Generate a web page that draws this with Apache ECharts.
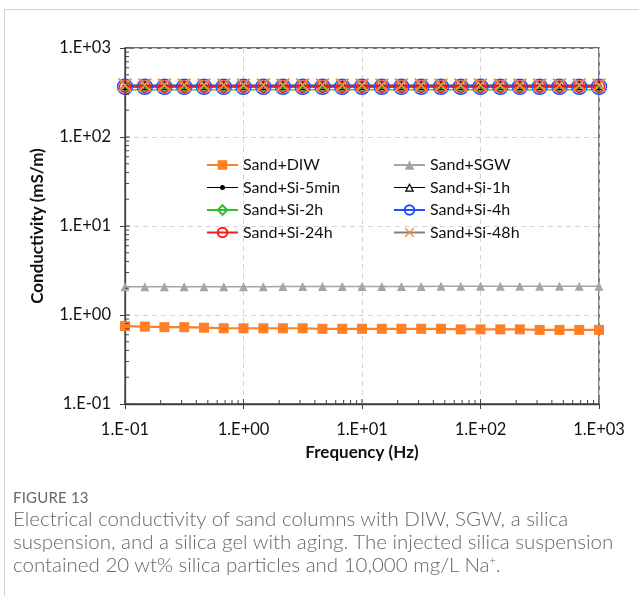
<!DOCTYPE html>
<html>
<head>
<meta charset="utf-8">
<script src="https://cdn.jsdelivr.net/npm/echarts@6/dist/echarts.min.js"></script>
<style>
  html, body { margin: 0; padding: 0; background: #fff; }
  #page { position: relative; width: 639px; height: 596px; overflow: hidden; }
  #frame { position: absolute; left: 4px; top: 9px; width: 660px; height: 620px;
           border: 1px solid #d2d2d2; box-sizing: border-box; }
  #chart { position: absolute; left: 0; top: 0; width: 639px; height: 596px; }
  #caption { position: absolute; left: 13px; top: 487px; width: 626px;
             font-family: Lato, "Open Sans", sans-serif; color: #666; white-space: nowrap; }
  #caption .fig { font-size: 15px; letter-spacing: 0.2px; line-height: 20px; color: #666; }
  #caption .txt { font-size: 20.5px; line-height: 23px; font-weight: 300; }
</style>
</head>
<body>
<div id="page">
  <div id="frame"></div>
  <div id="chart"></div>
  <div id="caption">
    <div class="fig">FIGURE 13</div>
    <div class="txt">Electrical conductivity of sand columns with DIW, SGW, a silica<br>suspension, and a silica gel with aging. The injected silica suspension<br>contained 20 wt% silica particles and 10,000 mg/L Na<sup style="font-size:11px;line-height:0">+</sup>.</div>
  </div>
</div>
<script>
// Measurement frequencies (Hz), six per decade
const frequency = [0.1, 0.147, 0.215, 0.316, 0.464, 0.681, 1, 1.47, 2.15, 3.16, 4.64, 6.81,
  10, 14.7, 21.5, 31.6, 46.4, 68.1, 100, 147, 215, 316, 464, 681, 1000];

// Conductivity (mS/m)
const sandDIW = [0.75, 0.74, 0.73, 0.73, 0.72, 0.71, 0.71, 0.71, 0.71, 0.71, 0.70, 0.70,
  0.70, 0.70, 0.70, 0.70, 0.70, 0.69, 0.69, 0.69, 0.69, 0.68, 0.68, 0.68, 0.68];
const sandSGW = [2.08, 2.08, 2.08, 2.08, 2.08, 2.08, 2.08, 2.08, 2.09, 2.09, 2.09, 2.09,
  2.09, 2.09, 2.09, 2.09, 2.10, 2.10, 2.10, 2.10, 2.10, 2.10, 2.10, 2.10, 2.10];
const sandSi5min = [372, 372, 372, 372, 372, 372, 372, 372, 372, 372, 372, 372,
  372, 372, 372, 372, 372, 372, 372, 372, 372, 372, 372, 372, 372];
const sandSi1h = [378, 378, 378, 378, 378, 378, 378, 378, 378, 378, 378, 378,
  378, 378, 378, 378, 378, 378, 378, 378, 378, 378, 378, 378, 378];
const sandSi2h = [338, 338, 338, 338, 338, 338, 338, 338, 338, 338, 338, 338,
  338, 338, 338, 338, 338, 338, 338, 338, 338, 338, 338, 338, 338];
const sandSi4h = [366, 366, 366, 366, 366, 366, 366, 366, 366, 366, 366, 366,
  366, 366, 366, 366, 366, 366, 366, 366, 366, 366, 366, 366, 366];
const sandSi24h = [368, 368, 368, 368, 368, 368, 368, 368, 368, 368, 368, 368,
  368, 368, 368, 368, 368, 368, 368, 368, 368, 368, 368, 368, 368];
const sandSi48h = [385, 385, 385, 385, 385, 385, 385, 385, 385, 385, 385, 385,
  385, 385, 385, 385, 385, 385, 385, 385, 385, 385, 385, 385, 385];

// Axis tick labels, one per decade from 1e-1 to 1e3
const decades = [0.1, 1, 10, 100, 1000];
const decadeLabels = ['1.E-01', '1.E+00', '1.E+01', '1.E+02', '1.E+03'];

const FONT = 'Lato, "Open Sans", sans-serif';
const AXIS_COLOR = '#404040';
const TEXT_COLOR = '#111';
const crossPath = 'path://M1,0L5,4L9,0L10,1L6,5L10,9L9,10L5,6L1,10L0,9L4,5L0,1Z';
// Legend keys drawn as paths in a 31x12 box (corner specks pin the box size)
const KEY_BOX = 'M0,0L0.01,0L0,0.01Z M31,12L30.99,12L31,11.99Z ';
const dotKeyPath = 'path://' + KEY_BOX +
  'M0,5.4L13.2,5.4L13.2,6.6L0,6.6Z M17.8,5.4L31,5.4L31,6.6L17.8,6.6Z ' +
  'M13,6A2.5,2.5,0,1,1,18,6A2.5,2.5,0,1,1,13,6Z';
const hollowTriangleKeyPath = 'path://' + KEY_BOX +
  'M0,5.4L13.3,5.4L13.3,6.6L0,6.6Z M17.7,5.4L31,5.4L31,6.6L17.7,6.6Z ' +
  'M15.5,1.5L20.2,10.3L10.8,10.3Z M15.5,4.1L12.9,9.1L18.1,9.1Z';

function labelFor(v) {
  const i = decades.findIndex(d => Math.abs(Math.log10(d) - Math.log10(v)) < 1e-6);
  return i >= 0 ? decadeLabels[i] : '';
}

// Minor tick positions (2..9 within each decade)
const minorValues = [];
decades.slice(0, -1).forEach(d => { for (let k = 2; k <= 9; k++) minorValues.push(+(d * k).toPrecision(3)); });

function pairs(ys) { return frequency.map((f, i) => [f, ys[i]]); }

function lineSeries(name, ys, opts) {
  return Object.assign({
    name: name, type: 'line', data: pairs(ys), showSymbol: true,
    animation: false, z: 3
  }, opts);
}

const series = [
  lineSeries('Sand+DIW', sandDIW, {
    symbol: 'rect', symbolSize: 10,
    lineStyle: { color: '#ff7f27', width: 2.2 },
    itemStyle: { color: '#ff7f27' }
  }),
  lineSeries('Sand+SGW', sandSGW, {
    symbol: 'triangle', symbolSize: 9,
    lineStyle: { color: '#a5a5a5', width: 1.6 },
    itemStyle: { color: '#a5a5a5' }
  }),
  lineSeries('Sand+Si-5min', sandSi5min, {
    symbol: 'circle', symbolSize: 5,
    lineStyle: { color: '#000', width: 1.2 },
    itemStyle: { color: '#000' }
  }),
  lineSeries('Sand+Si-1h', sandSi1h, {
    symbol: 'triangle', symbolSize: 8,
    lineStyle: { color: '#000', width: 1.2 },
    itemStyle: { color: 'rgba(0,0,0,0)', borderColor: '#000', borderWidth: 1.2 }
  }),
  lineSeries('Sand+Si-2h', sandSi2h, {
    symbol: 'diamond', symbolSize: 7,
    lineStyle: { color: '#2fbf2f', width: 1.2 },
    itemStyle: { color: 'rgba(0,0,0,0)', borderColor: '#2fbf2f', borderWidth: 1.2 }
  }),
  lineSeries('Sand+Si-4h', sandSi4h, {
    symbol: 'circle', symbolSize: 15,
    lineStyle: { color: '#1f4fff', width: 1.2 },
    itemStyle: { color: 'rgba(0,0,0,0)', borderColor: '#1f4fff', borderWidth: 1.5 }
  }),
  lineSeries('Sand+Si-24h', sandSi24h, {
    symbol: 'circle', symbolSize: 11,
    lineStyle: { color: '#ff1a1a', width: 2.2 },
    itemStyle: { color: 'rgba(0,0,0,0)', borderColor: '#ff1a1a', borderWidth: 1.6 }
  }),
  lineSeries('Sand+Si-48h', sandSi48h, {
    symbol: crossPath, symbolSize: 14,
    lineStyle: { color: '#808080', width: 1.2 },
    itemStyle: { color: '#f58a3c' }
  }),
  // Inner-side tick marks of the log axes (minor 2..9 and the decades)
  {
    type: 'custom', name: 'ticks', silent: true, animation: false, z: 4, clip: false,
    data: minorValues.map(v => [v, 0]).concat(decades.map(v => [v, 1])),
    encode: { x: 0 },
    renderItem: function (params, api) {
      const v = api.value(0);
      const major = api.value(1) === 1;
      const len = major ? 5 : 4;
      const px = api.coord([v, 0.1]);
      const py = api.coord([0.1, v]);
      return {
        type: 'group',
        children: [
          { type: 'line', shape: { x1: px[0], y1: px[1], x2: px[0], y2: px[1] - len },
            style: { stroke: AXIS_COLOR, lineWidth: 1 } },
          { type: 'line', shape: { x1: py[0], y1: py[1], x2: py[0] + len, y2: py[1] },
            style: { stroke: AXIS_COLOR, lineWidth: 1 } }
        ]
      };
    }
  }
];

const legendText = { fontFamily: FONT, fontSize: 16, color: TEXT_COLOR, lineHeight: 16 };

const option = {
  animation: false,
  backgroundColor: 'transparent',
  textStyle: { fontFamily: FONT },
  grid: { left: 125, right: 40, top: 48, bottom: 192, show: true,
          borderColor: AXIS_COLOR, borderWidth: 1.3, backgroundColor: 'transparent' },
  legend: [
    {
      data: ['Sand+DIW', { name: 'Sand+Si-5min', icon: dotKeyPath }, 'Sand+Si-2h', 'Sand+Si-24h'],
      orient: 'vertical', left: 206, top: 157, itemWidth: 31, itemHeight: 12,
      itemGap: 6.5, textStyle: legendText, selectedMode: false, padding: 0
    },
    {
      data: ['Sand+SGW',
             { name: 'Sand+Si-1h', icon: hollowTriangleKeyPath,
               itemStyle: { color: '#000', borderWidth: 0, borderColor: 'rgba(0,0,0,0)' } },
             'Sand+Si-4h', 'Sand+Si-48h'],
      orient: 'vertical', left: 393, top: 157, itemWidth: 31, itemHeight: 12,
      itemGap: 6.5, textStyle: legendText, selectedMode: false, padding: 0
    }
  ],
  xAxis: {
    type: 'log', logBase: 10, min: 0.1, max: 1000,
    name: 'Frequency (Hz)', nameLocation: 'middle', nameGap: 40,
    nameTextStyle: { fontFamily: FONT, fontSize: 17, fontWeight: 'bold', color: TEXT_COLOR },
    axisLine: { lineStyle: { color: AXIS_COLOR, width: 1.3 } },
    axisTick: { show: true, length: 5, inside: false, lineStyle: { color: AXIS_COLOR } },
    axisLabel: { fontFamily: FONT, fontSize: 16.5, color: TEXT_COLOR, margin: 17, formatter: labelFor,
                 showMinLabel: true, showMaxLabel: true },
    splitLine: { show: true, lineStyle: { color: '#d4d4d4', type: [5, 4], width: 1 } },
    minorTick: { show: false }
  },
  yAxis: {
    type: 'log', logBase: 10, min: 0.1, max: 1000,
    name: 'Conductivity (mS/m)', nameLocation: 'middle', nameGap: 79,
    nameTextStyle: { fontFamily: FONT, fontSize: 17, fontWeight: 'bold', color: TEXT_COLOR },
    axisLine: { lineStyle: { color: AXIS_COLOR, width: 1.3 } },
    axisTick: { show: true, length: 5, inside: false, lineStyle: { color: AXIS_COLOR } },
    axisLabel: { fontFamily: FONT, fontSize: 16.5, color: TEXT_COLOR, margin: 14, formatter: labelFor,
                 showMinLabel: true, showMaxLabel: true },
    splitLine: { show: true, lineStyle: { color: '#d4d4d4', type: [5, 4], width: 1 } },
    minorTick: { show: false }
  },
  series: series
};

const chart = echarts.init(document.getElementById('chart'), null, { renderer: 'canvas' });
chart.setOption(option);
</script>
</body>
</html>
